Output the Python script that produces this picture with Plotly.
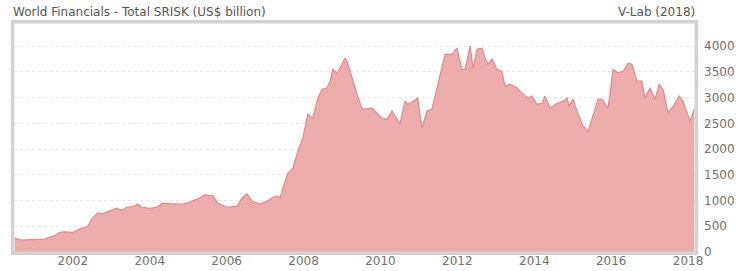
import plotly.graph_objects as go

# Decimal years
years = [2000.49, 2000.67, 2000.88, 2001.27, 2001.40, 2001.53, 2001.66, 2001.79, 2002.00, 2002.18,
         2002.39, 2002.49, 2002.65, 2002.78, 2002.96, 2003.14, 2003.27, 2003.40, 2003.53, 2003.69,
         2003.79, 2004.00, 2004.18, 2004.34, 2004.52, 2004.71, 2004.86, 2005.04, 2005.30, 2005.43,
         2005.64, 2005.77, 2006.01, 2006.27, 2006.40, 2006.53, 2006.66, 2006.86, 2007.05, 2007.18,
         2007.31, 2007.39, 2007.46, 2007.59, 2007.72, 2007.85, 2007.98, 2008.11, 2008.24, 2008.37,
         2008.48, 2008.61, 2008.69, 2008.76, 2008.87, 2008.97, 2009.08, 2009.15, 2009.26, 2009.39,
         2009.52, 2009.65, 2009.78, 2009.91, 2010.04, 2010.17, 2010.30, 2010.43, 2010.51, 2010.64,
         2010.71, 2010.85, 2010.97, 2011.08, 2011.21, 2011.34, 2011.47, 2011.60, 2011.68, 2011.86,
         2011.99, 2012.12, 2012.20, 2012.33, 2012.41, 2012.51, 2012.64, 2012.72, 2012.80, 2012.90,
         2013.03, 2013.16, 2013.24, 2013.37, 2013.55, 2013.68, 2013.84, 2013.94, 2014.07, 2014.20,
         2014.28, 2014.41, 2014.59, 2014.75, 2014.85, 2014.90, 2015.01, 2015.14, 2015.27, 2015.40,
         2015.53, 2015.66, 2015.76, 2015.92, 2016.05, 2016.18, 2016.31, 2016.44, 2016.54, 2016.67,
         2016.80, 2016.88, 2017.01, 2017.14, 2017.25, 2017.35, 2017.48, 2017.61, 2017.77, 2017.87,
         2018.05, 2018.16]

# Total SRISK, US$ billion
srisk = [270, 230, 240, 250, 290, 320, 380, 390, 380, 450,
         500, 640, 760, 740, 800, 850, 810, 870, 880, 930,
         870, 850, 870, 950, 940, 930, 930, 970, 1050, 1110,
         1090, 950, 870, 890, 1050, 1130, 990, 930, 990, 1050,
         1090, 1050, 1240, 1530, 1630, 1960, 2210, 2680, 2600, 2990,
         3160, 3190, 3320, 3550, 3480, 3610, 3770, 3670, 3380, 3070,
         2780, 2780, 2800, 2700, 2600, 2580, 2740, 2580, 2500, 2930,
         2870, 2930, 2990, 2410, 2740, 2780, 3190, 3650, 3840, 3840,
         3960, 3550, 3550, 4000, 3570, 3940, 3960, 3770, 3650, 3750,
         3550, 3510, 3220, 3260, 3190, 3090, 2990, 3030, 2870, 2890,
         3030, 2800, 2890, 2930, 2990, 2830, 2970, 2680, 2450, 2350,
         2680, 2970, 2970, 2800, 3550, 3480, 3510, 3670, 3650, 3320,
         3320, 2990, 3190, 2970, 3260, 3160, 2700, 2830, 3030, 2930,
         2540, 2780]

x_tick_vals = [2002, 2004, 2006, 2008, 2010, 2012, 2014, 2016, 2018]
x_tick_text = ["2002", "2004", "2006", "2008", "2010", "2012", "2014", "2016", "2018"]
y_tick_vals = [0, 500, 1000, 1500, 2000, 2500, 3000, 3500, 4000]

fig = go.Figure()
fig.add_trace(go.Scatter(
    x=years, y=srisk, mode="lines", fill="tozeroy",
    line=dict(color="rgb(222,140,140)", width=1.2),
    fillcolor="rgb(236,172,172)",
    hoverinfo="skip", showlegend=False,
))

fig.update_layout(
    width=738, height=271,
    margin=dict(l=14, r=43, t=23, b=19, autoexpand=False),
    paper_bgcolor="white", plot_bgcolor="white",
    font=dict(family="DejaVu Sans", size=12, color="#707070"),
    xaxis=dict(range=[2000.47, 2018.18], tickvals=x_tick_vals, ticktext=x_tick_text,
               showgrid=False, zeroline=False, showline=False, ticks="", automargin=False,
               tickfont=dict(size=12, color="#707070")),
    yaxis=dict(range=[0, 4450], side="right", tickvals=y_tick_vals,
               showgrid=True, gridcolor="#e6e6e6", griddash="dot", gridwidth=1,
               zeroline=False, showline=False, ticks="", ticklabelstandoff=8, automargin=False,
               tickfont=dict(size=12, color="#707070")),
    shapes=[dict(type="rect", xref="paper", yref="paper", x0=-0.002, x1=1.002, y0=-0.006, y1=1.006,
                 line=dict(color="#d2d2d2", width=3.5), fillcolor="rgba(0,0,0,0)", layer="above")],
    annotations=[
        dict(text="World Financials - Total SRISK (US$ billion)", xref="paper", yref="paper",
             x=-0.004, y=1.0, xanchor="left", yanchor="bottom", yshift=2, showarrow=False,
             font=dict(family="DejaVu Sans", size=12, color="#555")),
        dict(text="V-Lab (2018)", xref="paper", yref="paper",
             x=1.003, y=1.0, xanchor="right", yanchor="bottom", yshift=2, showarrow=False,
             font=dict(family="DejaVu Sans", size=12, color="#555")),
    ],
)

fig.write_html("out.html", config={"displayModeBar": False},
               post_script="document.body.style.margin='0';document.body.style.overflow='hidden';")
